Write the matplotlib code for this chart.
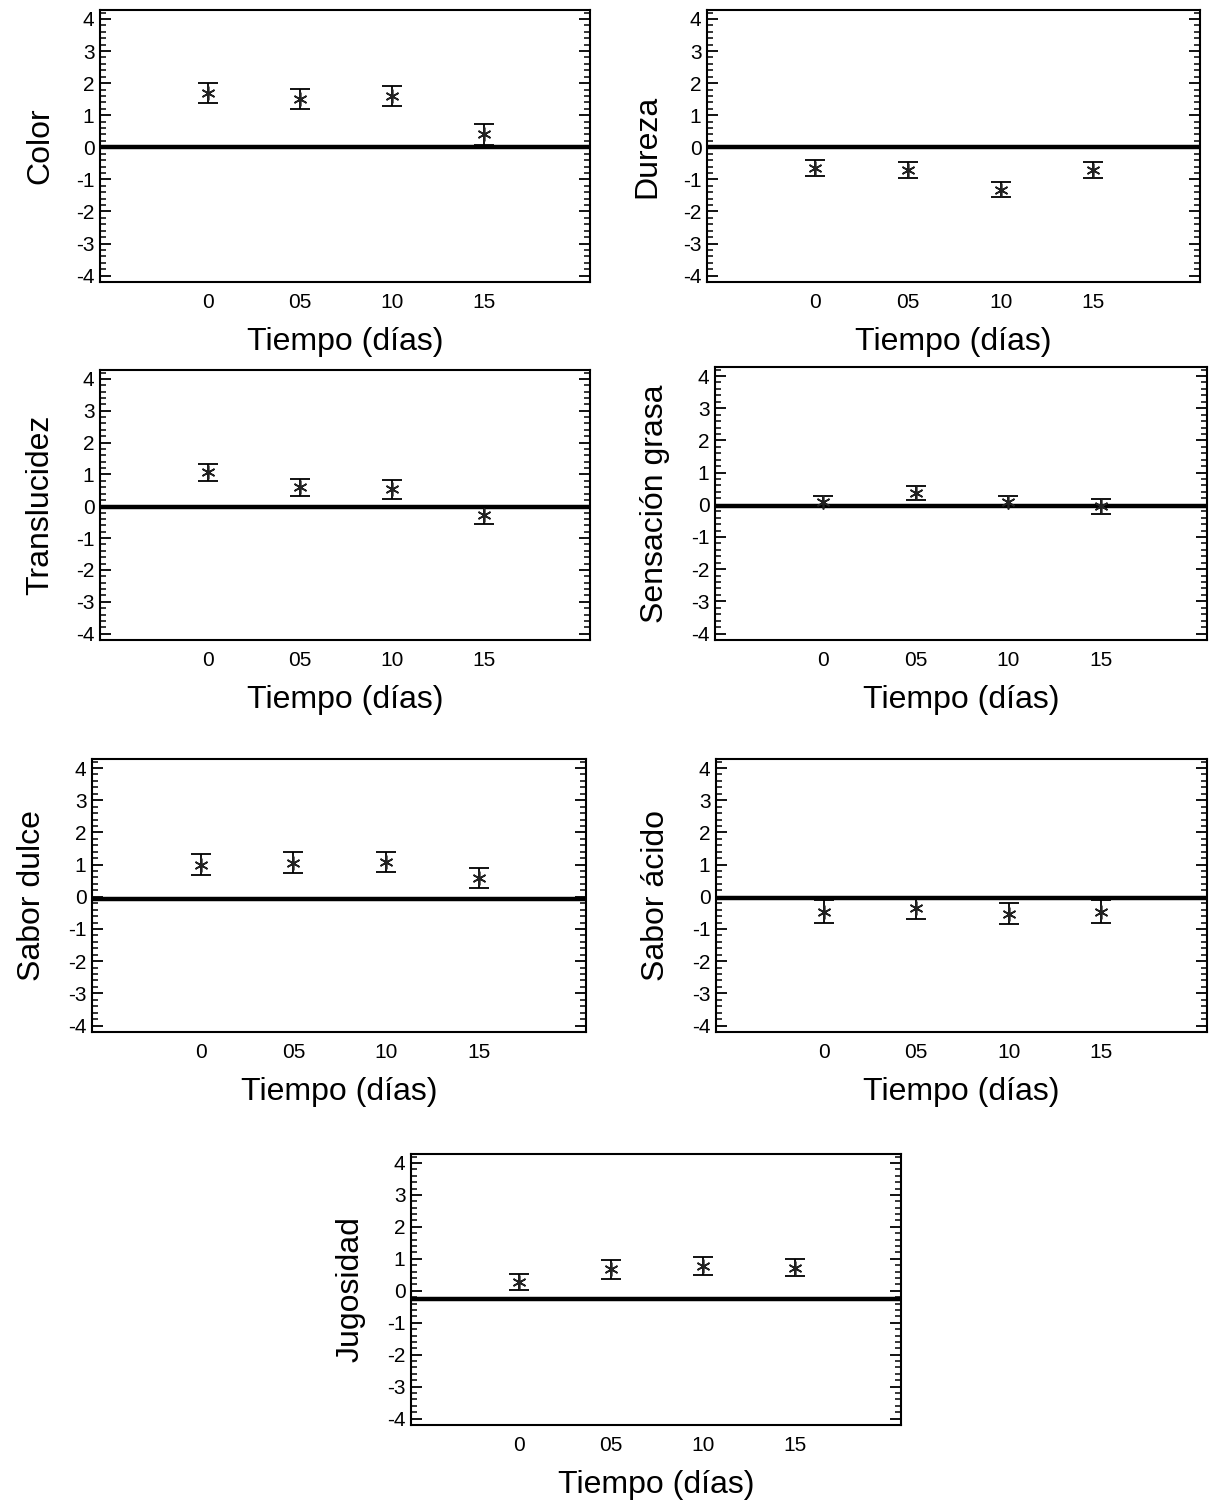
import matplotlib.pyplot as plt
from matplotlib.ticker import MultipleLocator

plt.rcParams['font.family'] = ['Liberation Sans', 'DejaVu Sans']
plt.rcParams['axes.unicode_minus'] = False

# data
dias = ['0', '05', '10', '15']
atributos = ['Color', 'Dureza', 'Translucidez', 'Sensación grasa',
             'Sabor dulce', 'Sabor ácido', 'Jugosidad']

color = [1.69, 1.50, 1.59, 0.40]
color_err = [0.31, 0.31, 0.31, 0.32]
dureza = [-0.65, -0.70, -1.32, -0.70]
dureza_err = [0.24, 0.245, 0.24, 0.245]
translucidez = [1.07, 0.60, 0.53, -0.27]
translucidez_err = [0.27, 0.27, 0.29, 0.29]
grasa = [0.10, 0.375, 0.10, -0.05]
grasa_err = [0.18, 0.22, 0.18, 0.23]
dulce = [1.00, 1.06, 1.07, 0.58]
dulce_err = [0.315, 0.32, 0.315, 0.315]
acido = [-0.46, -0.36, -0.52, -0.46]
acido_err = [0.36, 0.33, 0.33, 0.36]
jugosidad = [0.28, 0.67, 0.77, 0.72]
jugosidad_err = [0.26, 0.29, 0.28, 0.27]

# level of the thick reference line in each panel
referencia = [0.0, 0.0, -0.03, -0.05, -0.08, -0.03, -0.26]

medias = [color, dureza, translucidez, grasa, dulce, acido, jugosidad]
errores = [color_err, dureza_err, translucidez_err, grasa_err, dulce_err, acido_err, jugosidad_err]

W, H = 1211, 1500
# panel boxes in pixels: left, top, right, bottom
cajas = [(100, 10, 590, 282), (707, 10, 1200, 282),
         (100, 370, 590, 640), (715, 367, 1207, 640),
         (92, 759, 586, 1032), (716, 759, 1207, 1032),
         (411, 1154, 901, 1425)]

fig = plt.figure(figsize=(W / 100, H / 100), dpi=100)

for i, nombre in enumerate(atributos):
    l, t, r, b = cajas[i]
    ax = fig.add_axes([l / W, 1 - b / H, (r - l) / W, (b - t) / H])
    x = list(range(len(dias)))
    ax.axhline(referencia[i], color='black', lw=3.2, zorder=1)
    ax.errorbar(x, medias[i], yerr=errores[i], fmt='none', ecolor='black',
                elinewidth=1.3, capsize=7, capthick=1.3, zorder=2)
    ax.plot(x, medias[i], linestyle='none', marker=(6, 2, 0), markersize=10,
            markeredgewidth=1.2, color='#222222', zorder=3)
    ax.set_xlim(-1.17, 4.15)
    ax.set_ylim(-4.2, 4.28)
    ax.set_xticks(x)
    ax.set_xticklabels(dias)
    ax.yaxis.set_major_locator(MultipleLocator(1))
    ax.yaxis.set_minor_locator(MultipleLocator(0.2))
    ax.tick_params(axis='x', length=0, pad=8, labelsize=15)
    ax.tick_params(axis='y', which='major', direction='in', left=True, right=True,
                   length=8, width=1.3, labelsize=15, pad=4)
    ax.tick_params(axis='y', which='minor', direction='in', left=True, right=True,
                   length=4.5, width=1.1)
    for s in ax.spines.values():
        s.set_linewidth(1.5)
    ax.set_xlabel('Tiempo (días)', fontsize=23)
    ax.set_ylabel(nombre, fontsize=23)
    ax.xaxis.set_label_coords(0.5, -45 / (b - t))
    ax.yaxis.set_label_coords(-45 / (r - l), 0.5)

fig.savefig('out.png', dpi=100)
